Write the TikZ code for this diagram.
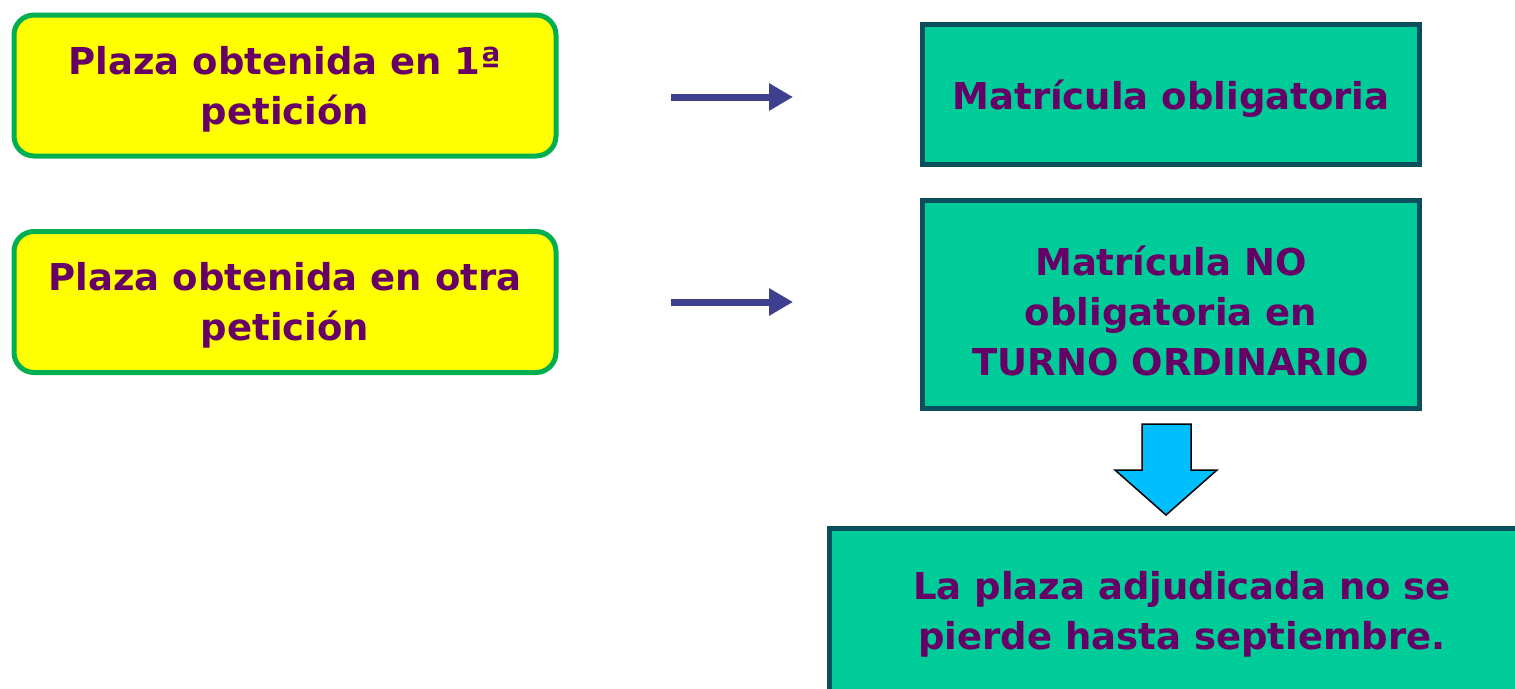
\documentclass[tikz,border=0pt]{standalone}
\usepackage{fontspec}
\usetikzlibrary{arrows.meta}
\setmainfont{DejaVu Sans}
\definecolor{txtpurple}{HTML}{660066}
\definecolor{ybfill}{HTML}{FFFF00}
\definecolor{ybborder}{HTML}{00B050}
\definecolor{gbfill}{HTML}{00CC99}
\definecolor{gbborder}{HTML}{0B4F5C}
\definecolor{arrblue}{HTML}{3F3F8F}
\definecolor{downblue}{HTML}{00BFFF}
\begin{document}
\begin{tikzpicture}[x=1pt,y=-1pt,
  lbl/.style={font=\fontsize{37}{50}\selectfont\bfseries, text=txtpurple, align=center, inner sep=0pt},
  ybox/.style={draw=ybborder, fill=ybfill, line width=5pt, rounded corners=20pt, minimum width=542pt, minimum height=141pt},
  gbox/.style={draw=gbborder, fill=gbfill, line width=5pt},
  rarrow/.style={draw=arrblue, line width=7pt, -{Triangle[length=24pt,width=26pt]}, shorten >=0pt},
]
\useasboundingbox (0,0) rectangle (1515,688);
\fill[white] (0,0) rectangle (1515,688);
\node[ybox] (y1) at (285,85.5) {};
\node[lbl] (y1t) at (285,89) {Plaza obtenida en 1ª\\petición};
\node[ybox] (y2) at (285,302) {};
\node[lbl] (y2t) at (285,305) {Plaza obtenida en otra\\petición};
\node[gbox, minimum width=497pt, minimum height=140pt] (g1) at (1170.5,94) {};
\node[lbl] (g1t) at (1171,99) {Matrícula obligatoria};
\node[gbox, minimum width=497pt, minimum height=208pt] (g2) at (1170.5,304) {};
\node[lbl] (g2t) at (1171,311) {Matrícula NO\\obligatoria en\\TURNO ORDINARIO};
\node[gbox, minimum width=706pt, minimum height=200pt] (g3) at (1182,628) {};
\node[lbl] (g3t) at (1182,614) {La plaza adjudicada no se\\pierde hasta septiembre.};
\coordinate (a1s) at (671,97);
\coordinate (a1e) at (793,97);
\coordinate (a2s) at (671,302);
\coordinate (a2e) at (793,302);
\draw[rarrow] (a1s) -- (a1e);
\draw[rarrow] (a2s) -- (a2e);
\draw[fill=downblue, draw=black, line width=1.5pt, line join=miter]
  (1142,424) -- (1191,424) -- (1191,470) -- (1217,470) -- (1166,515) -- (1115,470) -- (1142,470) -- cycle;
\end{tikzpicture}
\end{document}
